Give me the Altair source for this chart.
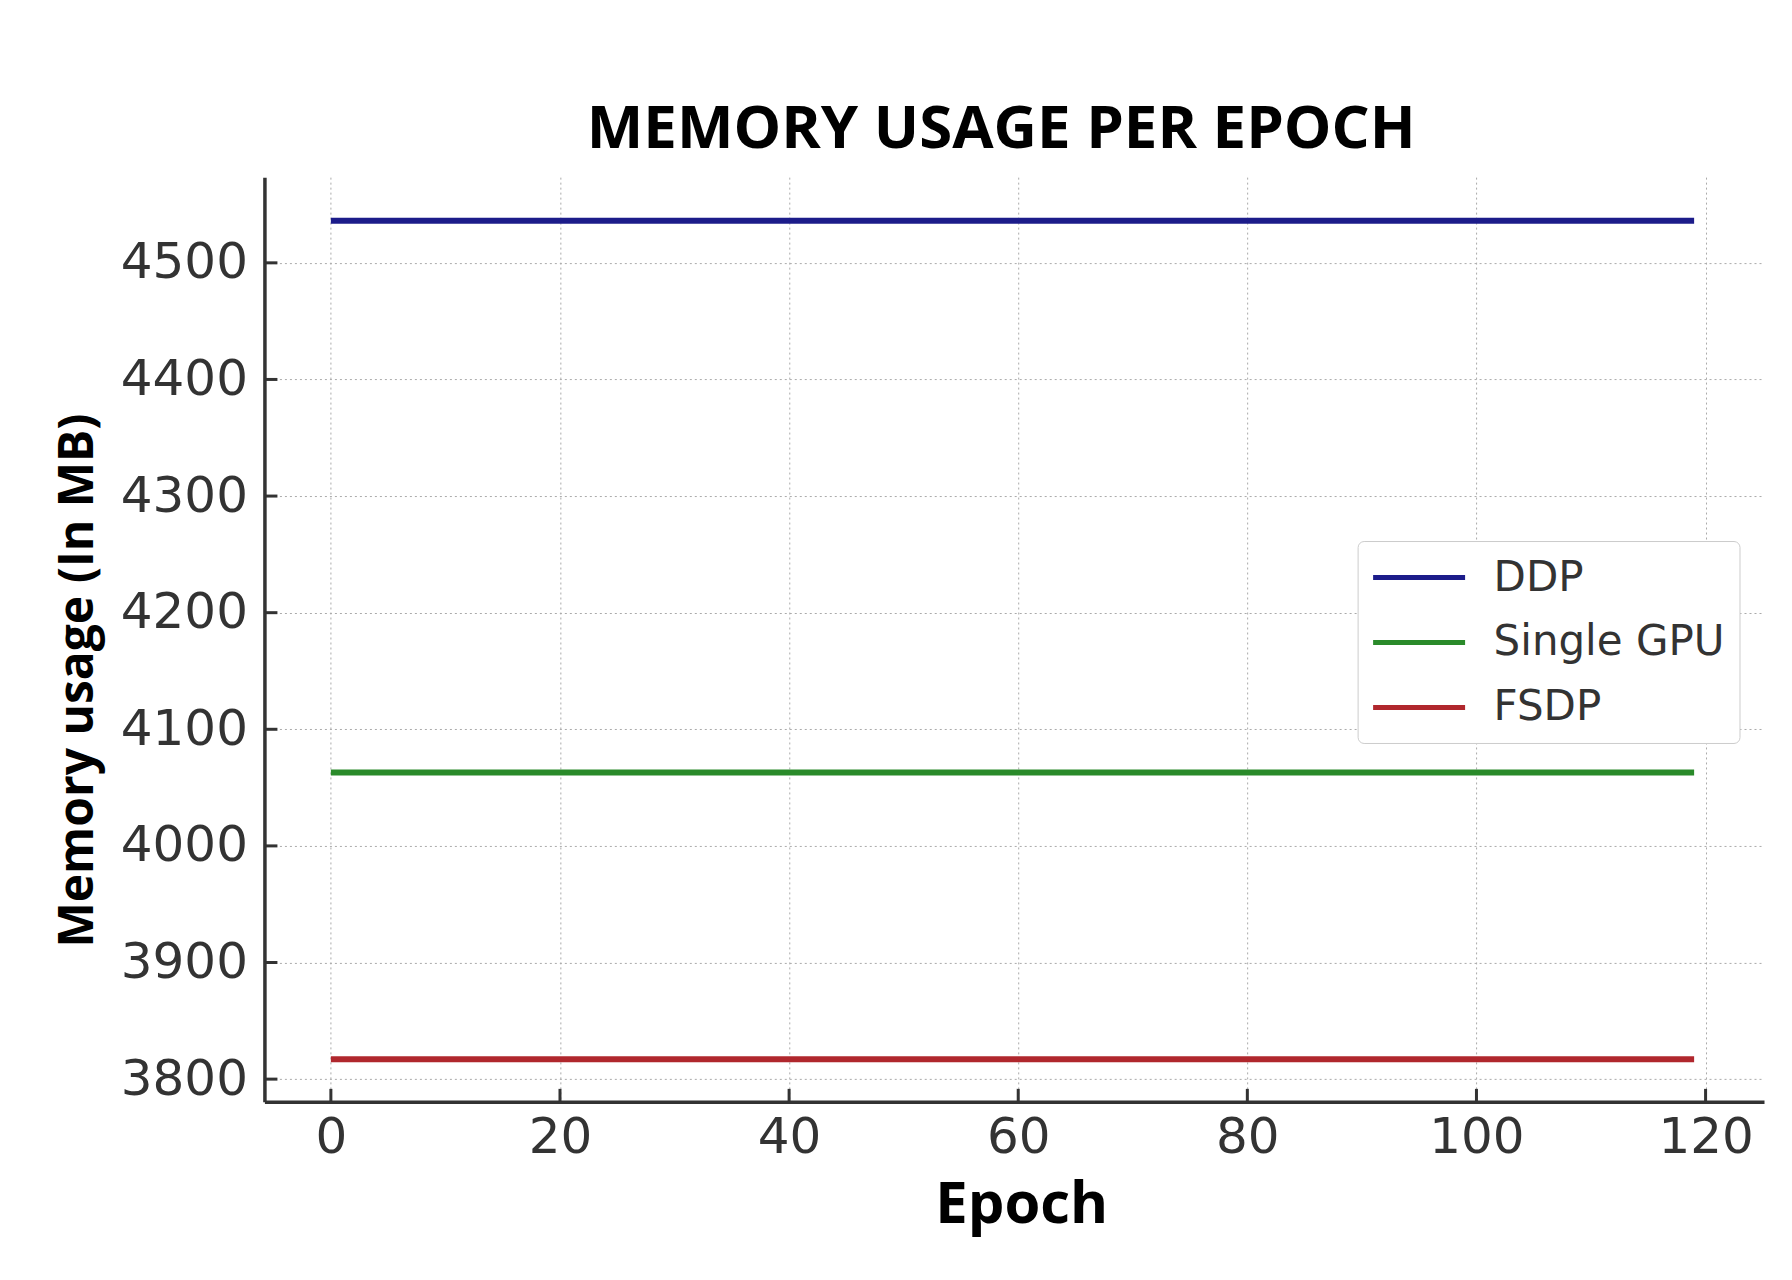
import altair as alt
import pandas as pd

# ---- data ----
series_names = ["DDP", "Single GPU", "FSDP"]
series_colors = ["#1c1c8a", "#2a8a2a", "#b0272d"]
epochs = [0, 119]
ddp_mb = [4536, 4536]
single_gpu_mb = [4063, 4063]
fsdp_mb = [3817, 3817]
x_ticks = [0, 20, 40, 60, 80, 100, 120]
y_ticks = [3800, 3900, 4000, 4100, 4200, 4300, 4400, 4500]

rows = []
for name, vals in zip(series_names, [ddp_mb, single_gpu_mb, fsdp_mb]):
    for e, v in zip(epochs, vals):
        rows.append({"Epoch": e, "Memory": v, "Series": name})
df = pd.DataFrame(rows)
xt_df = pd.DataFrame({"Epoch": x_ticks})
yt_df = pd.DataFrame({"Memory": y_ticks})

W, H = 1500, 925
xscale = alt.Scale(domain=[-5.8, 125.1], nice=False, zero=False)
yscale = alt.Scale(domain=[3780.5, 4573.5], nice=False, zero=False)

grid_kw = dict(grid=True, gridColor="#aaaaaa", gridDash=[2, 3], gridWidth=1,
               domainColor="#333333", domainWidth=3.5, tickSize=0,
               labelFont="DejaVu Sans", labelFontSize=50, labelColor="#333333",
               titleFont="Open Sans", titleFontWeight="bold", titleColor="black")

lines = alt.Chart(df).mark_line(strokeWidth=6).encode(
    x=alt.X("Epoch:Q", scale=xscale,
            axis=alt.Axis(values=x_ticks, title="Epoch", titleFontSize=58,
                          labelPadding=11, titleX=757, titleY=121,
                          titleBaseline="alphabetic", titleAnchor="start",
                          titleAlign="center", format="d", **grid_kw)),
    y=alt.Y("Memory:Q", scale=yscale,
            axis=alt.Axis(values=y_ticks, title="Memory usage (In MB)", titleFontSize=48,
                          labelPadding=17, titleX=-186, titleY=503,
                          titleBaseline="middle", titleAngle=270,
                          titleAlign="center", format="d", **grid_kw)),
    color=alt.Color("Series:N",
                    scale=alt.Scale(domain=series_names, range=series_colors),
                    legend=alt.Legend(title=None, orient="none", legendX=1093.5, legendY=364,
                                      symbolType="M-2.3,0H2.3", symbolSize=1600,
                                      symbolStrokeWidth=5, symbolOffset=25,
                                      labelFont="DejaVu Sans", labelFontSize=42,
                                      labelColor="#333333", labelOffset=52, labelLimit=600,
                                      padding=14, rowPadding=21, strokeColor="#cccccc",
                                      fillColor="white", cornerRadius=6)),
)

y_tick_marks = alt.Chart(yt_df).mark_rule(color="#333333", strokeWidth=3).encode(
    y=alt.Y("Memory:Q", scale=yscale), x=alt.value(0), x2=alt.value(13))
x_tick_marks = alt.Chart(xt_df).mark_rule(color="#333333", strokeWidth=3).encode(
    x=alt.X("Epoch:Q", scale=xscale), y=alt.value(H), y2=alt.value(H - 13))

chart = alt.layer(lines, y_tick_marks, x_tick_marks).properties(
    width=W, height=H,
    title=alt.TitleParams("MEMORY USAGE PER EPOCH", font="Open Sans", fontSize=60,
                          fontWeight="bold", color="black", anchor="middle",
                          frame="group", dx=-13, dy=60, offset=29, baseline="alphabetic"),
    padding={"left": 256.5, "top": 169, "right": 20, "bottom": 160},
    autosize=alt.AutoSizeParams(type="none"),
).configure_view(stroke=None)

chart.save("out.html", embed_options={"renderer": "svg", "actions": False})
